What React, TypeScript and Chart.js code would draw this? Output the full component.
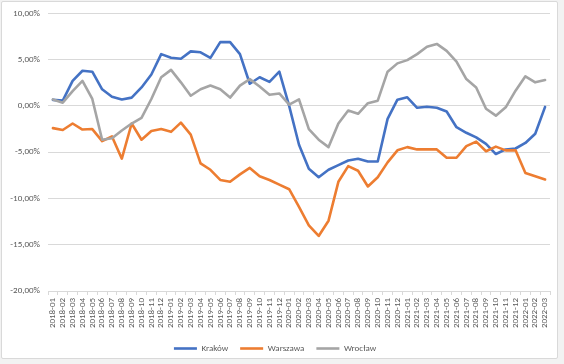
import React, { useEffect, useRef } from "react";
import { Chart, registerables } from "chart.js";

Chart.register(...registerables);

const months: string[] = [
  "2018-01","2018-02","2018-03","2018-04","2018-05","2018-06","2018-07","2018-08","2018-09","2018-10","2018-11","2018-12",
  "2019-01","2019-02","2019-03","2019-04","2019-05","2019-06","2019-07","2019-08","2019-09","2019-10","2019-11","2019-12",
  "2020-01","2020-02","2020-03","2020-04","2020-05","2020-06","2020-07","2020-08","2020-09","2020-10","2020-11","2020-12",
  "2021-01","2021-02","2021-03","2021-04","2021-05","2021-06","2021-07","2021-08","2021-09","2021-10","2021-11","2021-12",
  "2022-01","2022-02","2022-03",
];

const krakow: number[] = [
  0.65, 0.57, 2.7, 3.8, 3.7, 1.8, 1.0, 0.7, 0.9, 2.0, 3.4, 5.6,
  5.2, 5.1, 5.9, 5.8, 5.2, 6.9, 6.9, 5.6, 2.4, 3.1, 2.6, 3.7,
  0.0, -4.2, -6.8, -7.7, -6.9, -6.4, -5.9, -5.7, -6.0, -6.0, -1.4, 0.68,
  0.93, -0.2, -0.08, -0.2, -0.6, -2.3, -2.9, -3.4, -4.1, -5.2, -4.7, -4.6,
  -4.0, -3.0, -0.1,
];

const warszawa: number[] = [
  -2.4, -2.6, -1.9, -2.55, -2.5, -3.8, -3.3, -5.7, -1.9, -3.65, -2.7, -2.5,
  -2.8, -1.8, -3.1, -6.2, -6.9, -8.0, -8.2, -7.4, -6.7, -7.6, -8.0, -8.5,
  -9.0, -10.9, -12.9, -14.05, -12.4, -8.2, -6.5, -7.0, -8.7, -7.7, -6.1, -4.8,
  -4.45, -4.7, -4.7, -4.7, -5.6, -5.6, -4.35, -3.85, -4.9, -4.4, -4.8, -4.8,
  -7.25, -7.6, -7.95,
];

const wroclaw: number[] = [
  0.7, 0.35, 1.6, 2.7, 0.75, -3.65, -3.5, -2.65, -1.9, -1.3, 0.75, 3.1,
  3.9, 2.55, 1.1, 1.8, 2.2, 1.8, 0.9, 2.2, 2.9, 2.1, 1.2, 1.35,
  0.15, 0.7, -2.5, -3.65, -4.45, -1.9, -0.5, -0.85, 0.3, 0.57, 3.7, 4.6,
  4.95, 5.6, 6.4, 6.7, 5.95, 4.8, 2.9, 2.0, -0.3, -1.05, -0.15, 1.65,
  3.2, 2.55, 2.8,
];

const seriesNames: string[] = ["Kraków", "Warszawa", "Wrocław"];
const seriesColors: string[] = ["#4472C4", "#ED7D31", "#A5A5A5"];

const FONT = 'Calibri, Carlito, "Liberation Sans", Arial, sans-serif';

export default function App() {
  const canvasRef = useRef<HTMLCanvasElement | null>(null);

  useEffect(() => {
    const canvas = canvasRef.current;
    if (!canvas) return;
    const values = [krakow, warszawa, wroclaw];
    const chart = new Chart(canvas, {
      type: "line",
      data: {
        labels: months,
        datasets: seriesNames.map((name, i) => ({
          label: name,
          data: values[i],
          borderColor: seriesColors[i],
          backgroundColor: seriesColors[i],
          borderWidth: 2.6,
          pointRadius: 0,
          pointHoverRadius: 0,
          tension: 0,
          fill: false,
          borderJoinStyle: "round" as const,
          borderCapStyle: "round" as const,
          order: 3 - i,
        })),
      },
      options: {
        responsive: false,
        animation: false,
        events: [],
        layout: { padding: { left: 0, right: 14, top: 11, bottom: 1 } },
        plugins: {
          tooltip: { enabled: false },
          legend: {
            display: true,
            position: "bottom",
            labels: {
              usePointStyle: true,
              pointStyle: "line",
              pointStyleWidth: 23,
              padding: 12,
              color: "#595959",
              font: { family: FONT, size: 9 },
              sort: (a: any, b: any) => a.datasetIndex - b.datasetIndex,
            },
          },
        },
        scales: {
          x: {
            type: "category",
            offset: true,
            grid: {
              display: true,
              drawOnChartArea: false,
              drawTicks: true,
              tickLength: 4,
              color: "#D9D9D9",
              offset: true,
            },
            border: { display: true, color: "#D9D9D9" },
            ticks: {
              autoSkip: false,
              maxRotation: 90,
              minRotation: 90,
              padding: 3,
              color: "#595959",
              font: { family: FONT, size: 9 },
            },
            afterFit: (scale: any) => {
              scale.height = 41;
            },
          },
          y: {
            min: -20,
            max: 10,
            grid: { color: "#D9D9D9", drawTicks: false, lineWidth: 1 },
            border: { display: false },
            ticks: {
              stepSize: 5,
              padding: 8,
              color: "#595959",
              font: { family: FONT, size: 9 },
              callback: (v: any) => Number(v).toFixed(2).replace(".", ",") + "%",
            },
            afterFit: (scale: any) => {
              scale.width = 48;
            },
          },
        },
      },
    });
    return () => chart.destroy();
  }, []);

  return (
    <div style={{ position: "fixed", left: 0, top: 0, width: 564, height: 364, background: "#F2F2F2" }}>
      <div
        style={{
          position: "absolute",
          left: 1,
          top: 1,
          width: 555,
          height: 356,
          background: "#FFFFFF",
          border: "1px solid #D9D9D9",
          borderRadius: 2,
        }}
      />
      <canvas
        ref={canvasRef}
        width={564}
        height={364}
        style={{ position: "absolute", left: 0, top: 0, width: 564, height: 364 }}
      />
    </div>
  );
}
